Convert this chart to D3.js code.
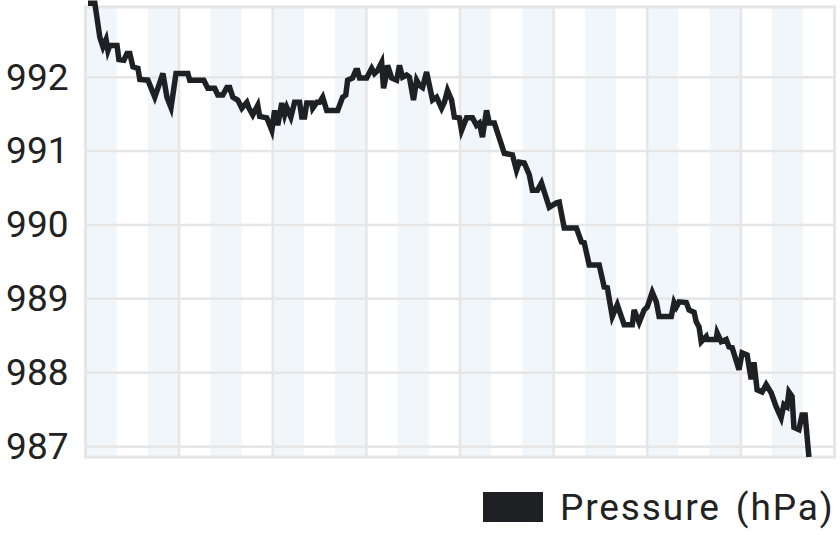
<!DOCTYPE html>
<html>
<head>
<meta charset="utf-8">
<script src="https://cdn.jsdelivr.net/npm/d3@7"></script>
<style>
  body { margin: 0; background: #fff; }
  text { font-family: Roboto, "Noto Sans", sans-serif; fill: #222; }
</style>
</head>
<body>
<div id="chart"></div>
<script>
// hours since start
var HOURS = [0.08, 0.30, 0.46, 0.56, 0.66, 0.72, 0.78, 1.01, 1.07, 1.23, 1.33, 1.42, 1.52, 1.68, 1.74, 2.00,
    2.22, 2.35, 2.48, 2.61, 2.74, 2.90, 3.28, 3.34, 3.79, 3.92, 4.14, 4.24, 4.40, 4.53, 4.62, 4.72,
    4.88, 5.01, 5.17, 5.23, 5.36, 5.52, 5.58, 5.81, 5.97, 6.06, 6.16, 6.29, 6.38, 6.45, 6.58, 6.70,
    6.86, 6.93, 7.02, 7.09, 7.25, 7.28, 7.41, 7.50, 7.60, 7.73, 8.08, 8.24, 8.34, 8.40, 8.56, 8.66,
    8.72, 8.78, 9.01, 9.17, 9.26, 9.36, 9.49, 9.55, 9.62, 9.68, 9.81, 9.97, 10.06, 10.16, 10.29, 10.38,
    10.51, 10.61, 10.70, 10.80, 10.93, 11.02, 11.12, 11.25, 11.41, 11.50, 11.60, 11.73, 11.82, 11.98, 12.05, 12.21,
    12.40, 12.53, 12.62, 12.72, 12.85, 12.94, 13.10, 13.42, 13.68, 13.81, 13.90, 14.06, 14.22, 14.32, 14.48, 14.61,
    14.70, 14.86, 15.09, 15.18, 15.34, 15.73, 15.89, 15.98, 16.14, 16.46, 16.62, 16.72, 16.88, 17.04, 17.17, 17.26,
    17.52, 17.58, 17.74, 17.90, 18.00, 18.16, 18.29, 18.38, 18.77, 18.86, 18.93, 19.02, 19.25, 19.34, 19.50, 19.57,
    19.66, 19.73, 19.89, 19.92, 20.21, 20.24, 20.37, 20.53, 20.62, 20.72, 20.94, 21.04, 21.20, 21.33, 21.42, 21.52,
    21.68, 21.81, 21.97, 22.13, 22.29, 22.38, 22.48, 22.54, 22.64, 22.70, 22.86, 22.96, 23.06, 23.18];

var PRESSURE = [993.00, 993.00, 992.54, 992.41, 992.51, 992.36, 992.43, 992.43, 992.24, 992.23, 992.32, 992.32, 992.14, 992.12, 991.97, 991.96,
    991.73, 991.89, 992.05, 991.73, 991.59, 992.05, 992.05, 991.96, 991.96, 991.85, 991.85, 991.76, 991.76, 991.86, 991.86, 991.73,
    991.69, 991.58, 991.66, 991.59, 991.49, 991.62, 991.47, 991.45, 991.28, 991.55, 991.35, 991.65, 991.49, 991.59, 991.46, 991.66,
    991.66, 991.46, 991.46, 991.65, 991.65, 991.58, 991.66, 991.66, 991.73, 991.55, 991.55, 991.73, 991.76, 991.96, 991.99, 992.09,
    992.09, 991.99, 991.99, 992.12, 992.05, 992.09, 992.20, 991.85, 991.99, 992.16, 991.99, 991.96, 992.16, 992.00, 992.03, 992.00,
    991.69, 991.96, 991.89, 991.86, 992.07, 991.89, 991.69, 991.73, 991.58, 991.66, 991.82, 991.69, 991.46, 991.45, 991.28, 991.45,
    991.45, 991.35, 991.38, 991.19, 991.55, 991.38, 991.38, 990.97, 990.95, 990.74, 990.85, 990.84, 990.68, 990.47, 990.47, 990.57,
    990.45, 990.24, 990.30, 990.31, 989.96, 989.96, 989.77, 989.76, 989.46, 989.46, 989.16, 989.15, 988.76, 988.92, 988.76, 988.65,
    988.65, 988.85, 988.68, 988.85, 988.89, 989.09, 988.96, 988.76, 988.76, 988.95, 988.89, 988.96, 988.95, 988.85, 988.82, 988.69,
    988.62, 988.42, 988.49, 988.45, 988.45, 988.54, 988.42, 988.45, 988.35, 988.34, 988.04, 988.27, 988.24, 987.91, 988.14, 987.77,
    987.74, 987.84, 987.73, 987.54, 987.39, 987.57, 987.54, 987.74, 987.68, 987.26, 987.23, 987.43, 987.43, 986.86];

var Y_TICKS = [987, 988, 989, 990, 991, 992];
var Y_RANGE = [986.86, 992.95];
var X_RANGE = [0, 24];
var X_GRID = [3, 6, 9, 12, 15, 18, 21];
var SHADED = [0, 2, 4, 6, 8, 10, 12, 14, 16, 18, 20, 22];   // start hour of each light band
var LEGEND_LABEL = "Pressure (hPa)";

var LINE_COLOR = "#1e2023";
var GRID_COLOR = "#e6e6e6";
var BAND_COLOR = "#f1f6fa";
var FONT_SIZE = 37;

function plotPressure(width = 840, height = 535) {
    const margin = { top: 7, right: 5.5, bottom: 78, left: 85.5 };
    const innerWidth = width - margin.left - margin.right;
    const innerHeight = height - margin.top - margin.bottom;

    const svg = d3.select('#chart')
        .append('svg')
        .attr('width', width)
        .attr('height', height);

    const x = d3.scaleLinear().domain(X_RANGE).range([0, innerWidth]);
    const y = d3.scaleLinear().domain(Y_RANGE).range([innerHeight, 0]);

    const g = svg.append('g')
        .attr('transform', `translate(${margin.left}, ${margin.top})`);

    // alternating hour bands
    g.selectAll('rect.band')
        .data(SHADED)
        .enter()
        .append('rect')
        .attr('class', 'band')
        .attr('x', d => x(d))
        .attr('y', 0)
        .attr('width', d => x(d + 1) - x(d))
        .attr('height', innerHeight)
        .attr('fill', BAND_COLOR);

    // horizontal grid
    g.selectAll('line.hgrid')
        .data(Y_TICKS)
        .enter()
        .append('line')
        .attr('x1', 0)
        .attr('x2', innerWidth)
        .attr('y1', d => y(d))
        .attr('y2', d => y(d))
        .attr('stroke', GRID_COLOR)
        .attr('stroke-width', 2.5);

    // vertical grid
    g.selectAll('line.vgrid')
        .data(X_GRID)
        .enter()
        .append('line')
        .attr('x1', d => x(d))
        .attr('x2', d => x(d))
        .attr('y1', 0)
        .attr('y2', innerHeight)
        .attr('stroke', GRID_COLOR)
        .attr('stroke-width', 2.5);

    // frame
    g.append('rect')
        .attr('width', innerWidth)
        .attr('height', innerHeight)
        .attr('fill', 'none')
        .attr('stroke', GRID_COLOR)
        .attr('stroke-width', 3);

    // y labels
    const yAxis = g.append('g')
        .call(d3.axisLeft(y).tickValues(Y_TICKS).tickSize(0).tickPadding(17).tickFormat(d3.format('d')));
    yAxis.select('.domain').remove();
    yAxis.selectAll('text')
        .style('font-size', `${FONT_SIZE}px`)
        .attr('fill', '#222')
        .attr('font-family', 'Roboto, sans-serif');

    const data = HOURS.map((h, i) => ({ h: h, p: PRESSURE[i] }));

    const line = d3.line()
        .x(d => x(d.h))
        .y(d => y(d.p));

    g.append('path')
        .datum(data)
        .attr('d', line)
        .attr('fill', 'none')
        .attr('stroke', LINE_COLOR)
        .attr('stroke-width', 5.5);

    // legend
    const legend = svg.append('g')
        .attr('transform', `translate(483, 492)`);

    legend.append('rect')
        .attr('width', 60)
        .attr('height', 30)
        .attr('fill', LINE_COLOR);

    legend.append('text')
        .text(LEGEND_LABEL)
        .attr('x', 77)
        .attr('y', 27.5)
        .style('font-size', `${FONT_SIZE}px`)
        .style('letter-spacing', '1.9px')
        .style('word-spacing', '4px');
}

plotPressure();
</script>
</body>
</html>
